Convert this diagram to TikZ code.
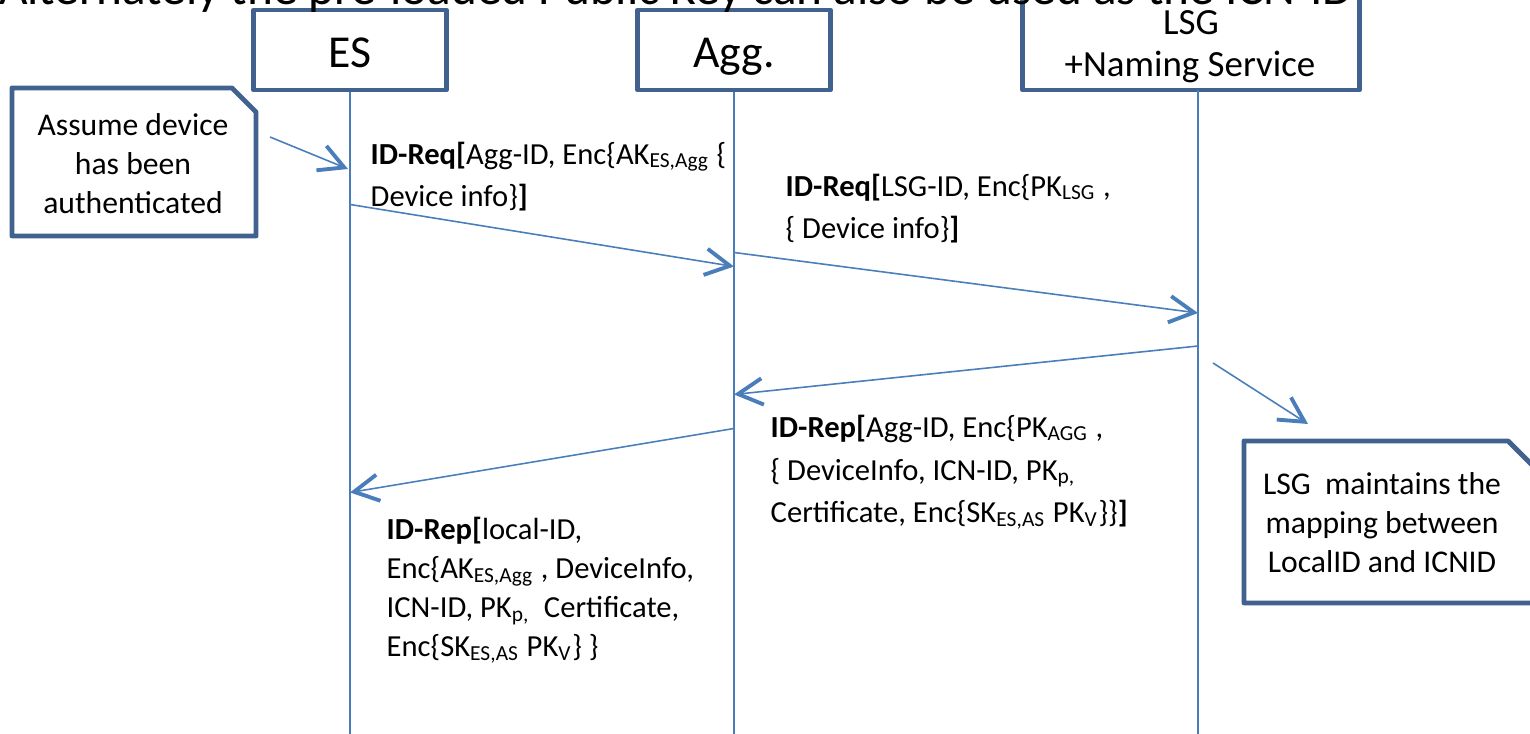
\documentclass[tikz,border=0pt]{standalone}
\usepackage{fontspec}
\setmainfont{Carlito}
\usetikzlibrary{calc,positioning,arrows.meta}
\definecolor{boxblue}{HTML}{41628F}
\definecolor{lineblue}{HTML}{4A7EBB}
\tikzset{msg/.style={lineblue,line width=0.45pt,-{Straight Barb[length=7pt,width=7.5pt,line width=1.1pt]}},life/.style={lineblue,line width=0.45pt}}

\begin{document}
\begin{tikzpicture}[x=0.01cm,y=-0.01cm]

\tikzset{headbox/.style={draw=boxblue,line width=1.4pt,line join=round,fill=white,inner sep=0pt,minimum height=0.8cm,text height=9.7pt,text depth=0pt,font=\fontsize{13}{15}\selectfont},
notebox/.style={draw=boxblue,line width=1.4pt,line join=round,fill=white},
notetext/.style={align=center,inner sep=0pt,font=\fontsize{9}{11.1}\selectfont},
msgtext/.style={anchor=base west,align=left,inner sep=0pt,font=\fontsize{8.7}{12.2}\selectfont}}

% Frame
\path[use as bounding box] (0,0) rectangle (1530,734);
\clip (0,0) rectangle (1530,734);

% Entities
\node (es) [headbox,minimum width=1.92cm] at (350,50) {ES};
\node (agg) [headbox,minimum width=1.92cm] at (734,50) {Agg.};
\node (lsg) [headbox,minimum width=3.36cm,minimum height=1.2cm] at (1191,30) {};
\node (lsgA) [anchor=base,inner sep=0pt,font=\fontsize{10.5}{12}\selectfont] at (1191,35) {LSG};
\node (lsgB) [anchor=base,inner sep=0pt,font=\fontsize{10.5}{12}\selectfont] at (1190,77) {+Naming Service};

% Heading, cut at the top
\node[anchor=base east,inner sep=0pt,font=\fontsize{14}{16}\selectfont] (heading) at (1354,5) {Alternately the pre-loaded Public Key can also be used as the ICN-ID};

% Life lines
\coordinate (lsgTop) at (1198,90);
\draw[life] (es.south) -- ($(es.south)+(0,650)$);
\draw[life] (agg.south) -- ($(agg.south)+(0,650)$);
\draw[life] (lsgTop) -- ($(lsgTop)+(0,650)$);

% Notes
\draw[notebox] (12,88) -- (232,88) -- (256,112) -- (256,236) -- (12,236) -- cycle;
\node (note1) [notetext] at (133,164) {Assume device\\has been\\authenticated};
\draw[notebox] (1244,441) -- (1508,441) -- (1540,473) -- (1540,603) -- (1244,603) -- cycle;
\node (note2) [notetext] at (1382,523) {LSG\ \ maintains the\\mapping between\\LocalID and ICNID};
\coordinate (n1a) at (270,137);
\coordinate (n1b) at (348,169);
\draw[msg] (n1a) -- (n1b);
\coordinate (n2a) at (1213,363);
\coordinate (n2b) at (1308,424);
\draw[msg] (n2a) -- (n2b);

% Messages
\draw[msg] ($(es.south)+(0,112)$) -- ($(agg.south)+(0,174)$);
\draw[msg] ($(agg.south)+(0,160)$) -- ($(lsgTop)+(0,223)$);
\draw[msg] ($(lsgTop)+(0,256)$) -- ($(agg.south)+(0,302)$);
\draw[msg] ($(agg.south)+(0,336)$) -- ($(es.south)+(0,400)$);

% Message texts (anchored on the last line)
\node (req1) [msgtext] at (370,207) {\textbf{ID-Req[}Agg-ID, Enc\{AK\textsubscript{ES,Agg} \{\\Device info\}\textbf{]}};
\node (req2) [msgtext] at (785,239) {\textbf{ID-Req[}LSG-ID, Enc\{PK\textsubscript{LSG} ,\\\{ Device info\}\textbf{]}};
\node (rep1) [msgtext] at (770,523) {\textbf{ID-Rep[}Agg-ID, Enc\{PK\textsubscript{AGG} ,\\\{ DeviceInfo, ICN-ID, PK\textsubscript{p,}\\Certificate, Enc\{SK\textsubscript{ES,AS} PK\textsubscript{V}\}\}\textbf{]}};
\node (rep2) [msgtext,font=\fontsize{8.7}{11.1}\selectfont] at (386,657) {\textbf{ID-Rep[}local-ID,\\Enc\{AK\textsubscript{ES,Agg} , DeviceInfo,\\ICN-ID, PK\textsubscript{p,}\ \ Certificate,\\Enc\{SK\textsubscript{ES,AS} PK\textsubscript{V}\} \}};

\end{tikzpicture}
\end{document}
